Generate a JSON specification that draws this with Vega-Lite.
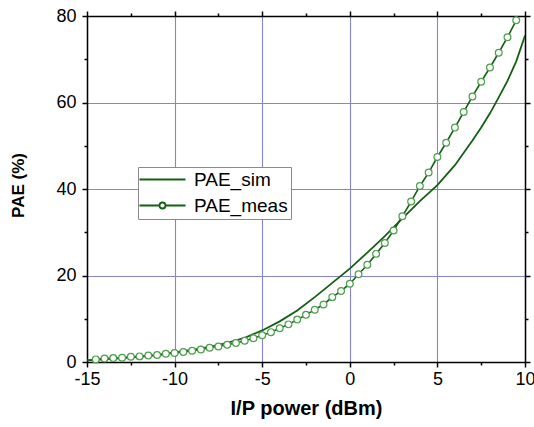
{
  "$schema": "https://vega.github.io/schema/vega-lite/v6.json",
  "width": 438,
  "height": 346,
  "autosize": {"type": "none"},
  "padding": {"left": 87, "top": 16, "right": 9, "bottom": 65},
  "background": "white",
  "config": {
    "view": {"stroke": null},
    "font": "Liberation Sans",
    "axis": {
      "domainColor": "black", "domainWidth": 1.5,
      "tickColor": "black", "tickWidth": 1.5,
      "labelFont": "Liberation Sans", "labelFontSize": 18, "labelColor": "black",
      "titleFont": "Liberation Sans", "titleFontSize": 20, "titleFontWeight": "bold", "titleColor": "black",
      "gridColor": "#8585cc", "gridWidth": 1.1
    }
  },
  "data": {
    "values": [
      {"series": "PAE_sim", "x": -15, "y": 0.4},
      {"series": "PAE_sim", "x": -14, "y": 0.6},
      {"series": "PAE_sim", "x": -13, "y": 0.9},
      {"series": "PAE_sim", "x": -12, "y": 1.2},
      {"series": "PAE_sim", "x": -11, "y": 1.6},
      {"series": "PAE_sim", "x": -10, "y": 2.2},
      {"series": "PAE_sim", "x": -9, "y": 2.8},
      {"series": "PAE_sim", "x": -8, "y": 3.5},
      {"series": "PAE_sim", "x": -7, "y": 4.4},
      {"series": "PAE_sim", "x": -6, "y": 5.6},
      {"series": "PAE_sim", "x": -5, "y": 7.3},
      {"series": "PAE_sim", "x": -4, "y": 9.4},
      {"series": "PAE_sim", "x": -3, "y": 11.9},
      {"series": "PAE_sim", "x": -2, "y": 15.0},
      {"series": "PAE_sim", "x": -1, "y": 18.3},
      {"series": "PAE_sim", "x": 0, "y": 21.6},
      {"series": "PAE_sim", "x": 1, "y": 25.3},
      {"series": "PAE_sim", "x": 2, "y": 29.1},
      {"series": "PAE_sim", "x": 3, "y": 33.2},
      {"series": "PAE_sim", "x": 4, "y": 37.2},
      {"series": "PAE_sim", "x": 5, "y": 40.9},
      {"series": "PAE_sim", "x": 6, "y": 45.5},
      {"series": "PAE_sim", "x": 7, "y": 51.2},
      {"series": "PAE_sim", "x": 7.5, "y": 54.2},
      {"series": "PAE_sim", "x": 8, "y": 57.5},
      {"series": "PAE_sim", "x": 8.5, "y": 61.2},
      {"series": "PAE_sim", "x": 9, "y": 65.0},
      {"series": "PAE_sim", "x": 9.5, "y": 69.5},
      {"series": "PAE_sim", "x": 10, "y": 75.5},
      {"series": "PAE_meas", "x": -14.5, "y": 0.6},
      {"series": "PAE_meas", "x": -14, "y": 0.8},
      {"series": "PAE_meas", "x": -13.5, "y": 0.9},
      {"series": "PAE_meas", "x": -13, "y": 1.0},
      {"series": "PAE_meas", "x": -12.5, "y": 1.2},
      {"series": "PAE_meas", "x": -12, "y": 1.3},
      {"series": "PAE_meas", "x": -11.5, "y": 1.5},
      {"series": "PAE_meas", "x": -11, "y": 1.6},
      {"series": "PAE_meas", "x": -10.5, "y": 1.9},
      {"series": "PAE_meas", "x": -10, "y": 2.1},
      {"series": "PAE_meas", "x": -9.5, "y": 2.3},
      {"series": "PAE_meas", "x": -9, "y": 2.6},
      {"series": "PAE_meas", "x": -8.5, "y": 2.9},
      {"series": "PAE_meas", "x": -8, "y": 3.3},
      {"series": "PAE_meas", "x": -7.5, "y": 3.6},
      {"series": "PAE_meas", "x": -7, "y": 4.0},
      {"series": "PAE_meas", "x": -6.5, "y": 4.4},
      {"series": "PAE_meas", "x": -6, "y": 4.9},
      {"series": "PAE_meas", "x": -5.5, "y": 5.5},
      {"series": "PAE_meas", "x": -5, "y": 6.2},
      {"series": "PAE_meas", "x": -4.5, "y": 6.9},
      {"series": "PAE_meas", "x": -4, "y": 7.8},
      {"series": "PAE_meas", "x": -3.5, "y": 8.7},
      {"series": "PAE_meas", "x": -3, "y": 9.8},
      {"series": "PAE_meas", "x": -2.5, "y": 10.9},
      {"series": "PAE_meas", "x": -2, "y": 12.1},
      {"series": "PAE_meas", "x": -1.5, "y": 13.3},
      {"series": "PAE_meas", "x": -1, "y": 15.0},
      {"series": "PAE_meas", "x": -0.5, "y": 16.4},
      {"series": "PAE_meas", "x": 0, "y": 18.1},
      {"series": "PAE_meas", "x": 0.5, "y": 20.3},
      {"series": "PAE_meas", "x": 1, "y": 22.5},
      {"series": "PAE_meas", "x": 1.5, "y": 25.0},
      {"series": "PAE_meas", "x": 2, "y": 27.5},
      {"series": "PAE_meas", "x": 2.5, "y": 30.4},
      {"series": "PAE_meas", "x": 3, "y": 33.7},
      {"series": "PAE_meas", "x": 3.5, "y": 37.1},
      {"series": "PAE_meas", "x": 4, "y": 40.7},
      {"series": "PAE_meas", "x": 4.5, "y": 43.8},
      {"series": "PAE_meas", "x": 5, "y": 47.4},
      {"series": "PAE_meas", "x": 5.5, "y": 50.7},
      {"series": "PAE_meas", "x": 6, "y": 54.2},
      {"series": "PAE_meas", "x": 6.5, "y": 57.8},
      {"series": "PAE_meas", "x": 7, "y": 61.4},
      {"series": "PAE_meas", "x": 7.5, "y": 64.8},
      {"series": "PAE_meas", "x": 8, "y": 68.1},
      {"series": "PAE_meas", "x": 8.5, "y": 71.5},
      {"series": "PAE_meas", "x": 9, "y": 75.1},
      {"series": "PAE_meas", "x": 9.5, "y": 79.0}
    ]
  },
  "resolve": {"axis": {"x": "independent", "y": "independent"}},
  "layer": [
    {
      "transform": [{"filter": "datum.series === 'PAE_sim'"}],
      "mark": {"type": "line", "strokeWidth": 1.8, "clip": true},
      "encoding": {
        "x": {
          "field": "x", "type": "quantitative",
          "scale": {"domain": [-15, 10], "nice": false, "zero": false},
          "axis": {
            "orient": "bottom",
            "values": [-15, -12.5, -10, -7.5, -5, -2.5, 0, 2.5, 5, 7.5, 10],
            "labelExpr": "datum.value % 5 === 0 ? '' + datum.value : ''",
            "labelFlush": false, "labelPadding": 3,
            "grid": true,
            "gridOpacity": {"condition": {"test": "datum.value % 5 !== 0", "value": 0}, "value": 1},
            "tickSize": {"condition": {"test": "datum.value % 5 !== 0", "value": 3}, "value": 5},
            "title": "I/P power (dBm)",
            "titleX": 219, "titleY": 52, "titleBaseline": "alphabetic", "titleAlign": "center"
          }
        },
        "y": {
          "field": "y", "type": "quantitative",
          "scale": {"domain": [0, 80], "nice": false},
          "axis": {
            "orient": "left",
            "values": [0, 10, 20, 30, 40, 50, 60, 70, 80],
            "labelExpr": "datum.value % 20 === 0 ? '' + datum.value : ''",
            "labelPadding": 6,
            "grid": true,
            "gridOpacity": {"condition": {"test": "datum.value % 20 !== 0", "value": 0}, "value": 1},
            "tickSize": {"condition": {"test": "datum.value % 20 !== 0", "value": 3}, "value": 5},
            "title": "PAE (%)",
            "titleAngle": -90, "titleX": -60, "titleY": 169, "titleBaseline": "bottom", "titleAlign": "center",
            "titleFontSize": 17
          }
        },
        "color": {
          "field": "series", "type": "nominal",
          "scale": {"domain": ["PAE_sim", "PAE_meas"], "range": ["#135f13", "#135f13"]},
          "legend": {
            "title": null,
            "orient": "none", "legendX": 51, "legendY": 151,
            "strokeColor": "#8a8a8a", "fillColor": "white",
            "padding": 3, "rowPadding": 6,
            "labelFont": "Liberation Sans", "labelFontSize": 19, "labelColor": "black",
            "labelOffset": 34,
            "symbolSize": 100,
            "encode": {
              "symbols": {
                "update": {
                  "shape": {"signal": "datum.value === 'PAE_meas' ? 'M-2.2,0H1.8M3,0H7M3,0A0.6,0.6 0 1,1 1.8,0A0.6,0.6 0 1,1 3,0' : 'M-2.2,0H7'"},
                  "fill": {"value": "white"},
                  "stroke": {"value": "#135f13"},
                  "strokeWidth": {"value": 1.8},
                  "opacity": {"value": 1}
                }
              }
            }
          }
        }
      }
    },
    {
      "transform": [{"filter": "datum.series === 'PAE_meas'"}],
      "mark": {"type": "line", "strokeWidth": 1.6, "clip": true},
      "encoding": {
        "x": {
          "field": "x", "type": "quantitative",
          "axis": {
            "orient": "top",
            "values": [-15, -12.5, -10, -7.5, -5, -2.5, 0, 2.5, 5, 7.5, 10],
            "labels": false, "grid": false, "title": null,
            "tickSize": {"condition": {"test": "datum.value % 5 !== 0", "value": 3}, "value": 5}
          }
        },
        "y": {
          "field": "y", "type": "quantitative",
          "axis": {
            "orient": "right",
            "values": [0, 10, 20, 30, 40, 50, 60, 70, 80],
            "labels": false, "grid": false, "title": null,
            "tickSize": {"condition": {"test": "datum.value % 20 !== 0", "value": 3}, "value": 5}
          }
        },
        "color": {"field": "series", "type": "nominal"}
      }
    },
    {
      "transform": [{"filter": "datum.series === 'PAE_meas'"}],
      "mark": {"type": "point", "shape": "circle", "filled": true, "fill": "white", "stroke": "#4f9f4f", "strokeWidth": 1.2, "size": 46, "opacity": 1},
      "encoding": {
        "x": {"field": "x", "type": "quantitative", "axis": null},
        "y": {"field": "y", "type": "quantitative", "axis": null}
      }
    }
  ]
}
